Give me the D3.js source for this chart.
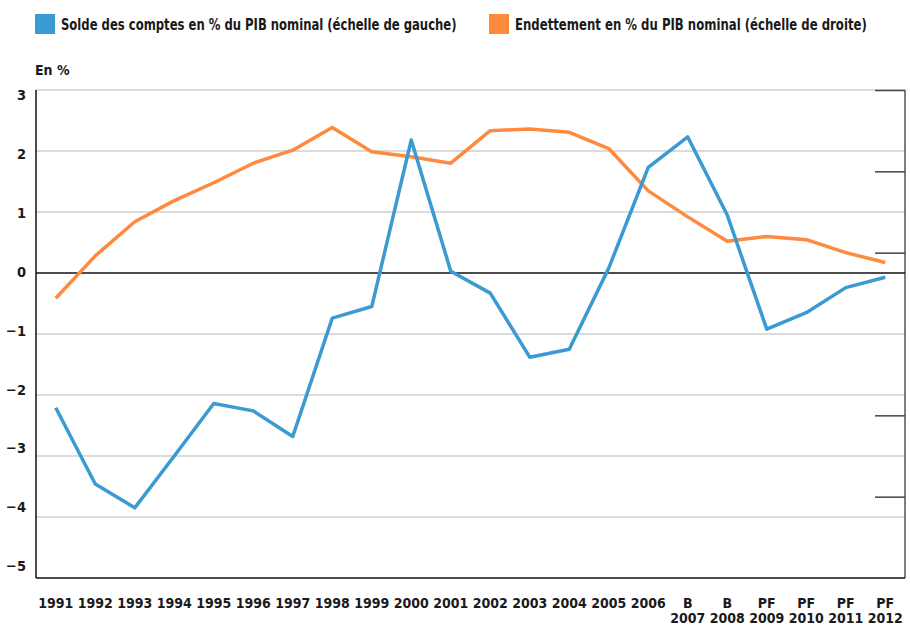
<!DOCTYPE html>
<html>
<head>
<meta charset="utf-8">
<script src="https://cdn.jsdelivr.net/npm/d3@7"></script>
<style>
  body { margin: 0; background: #fff; }
  text { font-family: "DejaVu Sans Condensed", "DejaVu Sans", sans-serif; font-weight: bold; fill: #1a1a1a; }
</style>
</head>
<body>
<div id="chart"></div>
<script>
// Data
var years = ["1991", "1992", "1993", "1994", "1995", "1996", "1997", "1998", "1999", "2000", "2001",
             "2002", "2003", "2004", "2005", "2006", "2007", "2008", "2009", "2010", "2011", "2012"];
var yearPrefix = ["", "", "", "", "", "", "", "", "", "", "", "", "", "", "", "", "B", "B", "PF", "PF", "PF", "PF"];
// Solde des comptes en % du PIB (left scale)
var solde = [-2.21, -3.46, -3.85, -3.0, -2.14, -2.26, -2.68, -0.74, -0.55, 2.18, 0.03,
             -0.33, -1.38, -1.25, 0.08, 1.73, 2.23, 0.95, -0.92, -0.65, -0.24, -0.07];
// Endettement en % du PIB (right scale, unlabelled)
var endettement = [17.2, 19.8, 21.9, 23.2, 24.3, 25.5, 26.3, 27.7, 26.2, 25.9, 25.5,
                   27.5, 27.6, 27.4, 26.4, 23.8, 22.2, 20.7, 21.0, 20.8, 20.0, 19.4];
var leftTicks = [3, 2, 1, 0, -1, -2, -3, -4, -5];
var rightTicks = [5, 10, 20, 25, 30];
var seriesNames = ["Solde des comptes en % du PIB nominal (échelle de gauche)",
                   "Endettement en % du PIB nominal (échelle de droite)"];
var seriesColors = ["#3a9ad2", "#fd8a3d"];

var svgWidth = 910;
var svgHeight = 626;
var plot = { left: 36, right: 905, top: 90, bottom: 578 };

var svg = d3.select("#chart")
  .append("svg")
  .attr("width", svgWidth)
  .attr("height", svgHeight);

var x = d3.scaleBand()
  .domain(years)
  .range([plot.left, plot.right]);

var yLeft = d3.scaleLinear()
  .domain([-5, 3])
  .range([plot.bottom, plot.top]);

// the printed labels sit a little off the gridlines in the original
var yLabel = d3.scaleLinear()
  .domain([-5, 3])
  .range([566, 95]);

var yRight = d3.scaleLinear()
  .domain([0, 30])
  .range([plot.bottom, plot.top]);

// gridlines
svg.append("g")
  .selectAll("line")
  .data(leftTicks.filter(d => d !== 0 && d !== -5))
  .enter()
  .append("line")
  .attr("x1", plot.left)
  .attr("x2", plot.right)
  .attr("y1", d => yLeft(d))
  .attr("y2", d => yLeft(d))
  .attr("stroke", "#cfcfcf")
  .attr("stroke-width", 1.5);

// left tick labels
var leftAxis = svg.append("g")
  .attr("transform", "translate(26,0)")
  .call(d3.axisLeft(yLabel).tickValues(leftTicks).tickSize(0).tickPadding(0));
leftAxis.select(".domain").remove();
leftAxis.selectAll("text")
  .style("font-size", "14.5px")
  .attr("fill", "#1a1a1a");

// right axis, ticks only
var rightAxis = svg.append("g")
  .attr("transform", `translate(${plot.right},0)`)
  .call(d3.axisLeft(yRight).tickValues(rightTicks).tickSize(30).tickFormat(""));
rightAxis.select(".domain")
  .attr("stroke", "#555")
  .attr("stroke-width", 1.5)
  .attr("d", `M0,${plot.top}V${plot.bottom}`);
rightAxis.selectAll(".tick line")
  .attr("stroke", "#444")
  .attr("stroke-width", 1.5);

// zero line, left axis and bottom line
svg.append("line")
  .attr("x1", plot.left).attr("x2", plot.right)
  .attr("y1", yLeft(0)).attr("y2", yLeft(0))
  .attr("stroke", "#111").attr("stroke-width", 1.5);
svg.append("line")
  .attr("x1", plot.left).attr("x2", plot.right)
  .attr("y1", yLeft(-5)).attr("y2", yLeft(-5))
  .attr("stroke", "#111").attr("stroke-width", 1.5);
svg.append("line")
  .attr("x1", plot.left).attr("x2", plot.left)
  .attr("y1", plot.top).attr("y2", plot.bottom)
  .attr("stroke", "#111").attr("stroke-width", 1.5);

// x axis labels
var bottomAxis = svg.append("g")
  .attr("transform", `translate(0,${plot.bottom})`)
  .call(d3.axisBottom(x).tickSize(0).tickFormat(""));
bottomAxis.select(".domain").remove();
var xText = bottomAxis.selectAll(".tick")
  .append("text")
  .attr("text-anchor", "middle")
  .style("font-size", "14px");
xText.each(function(d, i) {
  var t = d3.select(this);
  if (yearPrefix[i]) {
    t.append("tspan").attr("x", 0).attr("y", 30).text(yearPrefix[i]);
    t.append("tspan").attr("x", 0).attr("y", 45).text(d);
  } else {
    t.append("tspan").attr("x", 0).attr("y", 30).text(d);
  }
});

// lines
var line = d3.line()
  .x((d, i) => x(years[i]) + x.bandwidth() / 2);

svg.append("path")
  .datum(endettement)
  .attr("fill", "none")
  .attr("stroke", seriesColors[1])
  .attr("stroke-width", 3.5)
  .attr("stroke-linejoin", "round")
  .attr("d", line.y(d => yRight(d)));

svg.append("path")
  .datum(solde)
  .attr("fill", "none")
  .attr("stroke", seriesColors[0])
  .attr("stroke-width", 3.5)
  .attr("stroke-linejoin", "round")
  .attr("d", line.y(d => yLeft(d)));

// unit label
svg.append("text")
  .attr("x", 35)
  .attr("y", 75)
  .style("font-size", "14px")
  .text("En %");

// legend (text squeezed horizontally to match the condensed face of the original)
var legendX = [35, 489];
var legendWidth = [396, 352];
var legend = svg.append("g")
  .selectAll("g")
  .data(seriesNames)
  .enter()
  .append("g")
  .attr("transform", (d, i) => `translate(${legendX[i]},14)`);
legend.append("rect")
  .attr("width", 20)
  .attr("height", 20)
  .attr("fill", (d, i) => seriesColors[i]);
legend.append("text")
  .style("font-size", "16px")
  .text(d => d)
  .attr("transform", function(d, i) {
    var sx = legendWidth[i] / this.getComputedTextLength();
    return `translate(26,15.5) scale(${sx},1)`;
  });
</script>
</body>
</html>
